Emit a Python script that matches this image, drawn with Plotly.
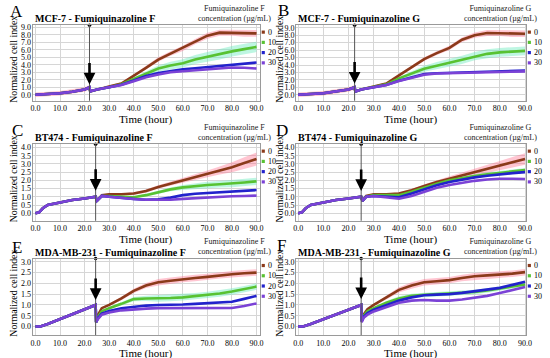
import plotly.graph_objects as go

# ------------------------------------------------------------------ data
CONC = ["0", "10", "20", "30"]
TICKS_X = [0, 10, 20, 30, 40, 50, 60, 70, 80, 90]

# Panel A  MCF-7 / Fumiquinazoline F
T_PRE_A = [0, 2, 5, 10, 15, 20, 22]
Y_PRE_A = [0.0, 0.0, 0.1, 0.2, 0.4, 0.7, 1.0]
ERR_PRE_A = [0.3, 0.3, 0.3, 0.3, 0.3, 0.3, 0.3]
T_POST_A = [22.3, 25, 30, 35, 40, 45, 50, 55, 60, 65, 70, 75, 80, 85, 90]
A_0 = [0.45, 0.7, 1.1, 1.5, 2.5, 3.6, 4.7, 5.5, 6.2, 7.1, 7.9, 8.3, 8.3, 8.2, 8.2]
A_10 = [0.45, 0.7, 1.0, 1.4, 2.1, 2.8, 3.5, 3.9, 4.2, 4.7, 5.1, 5.4, 5.8, 6.1, 6.4]
A_20 = [0.45, 0.7, 1.0, 1.35, 1.9, 2.5, 2.9, 3.2, 3.4, 3.55, 3.7, 3.9, 4.05, 4.2, 4.3]
A_30 = [0.45, 0.7, 1.0, 1.3, 1.8, 2.35, 2.7, 3.0, 3.15, 3.3, 3.4, 3.55, 3.65, 3.6, 3.5]
ERR0_A = [0.1, 0.1, 0.15, 0.2, 0.2, 0.25, 0.3, 0.3, 0.35, 0.35, 0.4, 0.4, 0.4, 0.45, 0.45]
ERR10_A = [0.1, 0.1, 0.15, 0.2, 0.25, 0.3, 0.4, 0.5, 0.55, 0.6, 0.65, 0.7, 0.7, 0.7, 0.7]

# Panel B  MCF-7 / Fumiquinazoline G
T_PRE_B = [0, 2, 5, 10, 15, 20, 22.4]
Y_PRE_B = [0.0, 0.0, 0.1, 0.2, 0.4, 0.7, 1.0]
ERR_PRE_B = [0.3, 0.3, 0.3, 0.3, 0.3, 0.3, 0.3]
T_POST_B = [22.7, 25, 30, 35, 40, 45, 50, 55, 60, 65, 70, 75, 80, 85, 90]
B_0 = [0.45, 0.7, 1.1, 1.5, 2.6, 3.7, 4.8, 5.6, 6.3, 7.4, 8.0, 8.3, 8.3, 8.2, 8.2]
B_10 = [0.45, 0.7, 1.05, 1.4, 2.2, 2.8, 3.5, 3.9, 4.3, 4.7, 5.2, 5.5, 5.7, 5.85, 5.9]
B_20 = [0.45, 0.7, 1.0, 1.3, 1.9, 2.3, 2.8, 2.9, 2.95, 3.0, 3.05, 3.1, 3.2, 3.25, 3.25]
B_30 = [0.45, 0.7, 1.0, 1.3, 1.85, 2.25, 2.7, 2.85, 2.9, 2.95, 3.0, 3.05, 3.1, 3.15, 3.15]
ERR0_B = [0.1, 0.1, 0.1, 0.15, 0.2, 0.2, 0.25, 0.25, 0.3, 0.3, 0.35, 0.4, 0.4, 0.45, 0.45]
ERR10_B = [0.1, 0.1, 0.1, 0.15, 0.2, 0.3, 0.4, 0.5, 0.5, 0.55, 0.55, 0.6, 0.6, 0.6, 0.6]

# Panel C  BT474 / Fumiquinazoline F
T_PRE_C = [0, 1.5, 3, 5, 10, 15, 20, 24.5]
Y_PRE_C = [0.0, 0.05, 0.3, 0.5, 0.65, 0.8, 0.9, 1.0]
ERR_PRE_C = [0.05, 0.05, 0.05, 0.05, 0.05, 0.05, 0.05, 0.05]
T_POST_C = [25, 27, 30, 35, 40, 45, 50, 55, 60, 65, 70, 75, 80, 85, 90]
C_0 = [0.75, 1.1, 1.15, 1.15, 1.2, 1.35, 1.6, 1.8, 2.0, 2.2, 2.4, 2.6, 2.8, 3.05, 3.3]
C_10 = [0.75, 1.05, 1.05, 1.0, 0.97, 1.1, 1.28, 1.45, 1.57, 1.65, 1.72, 1.76, 1.8, 1.87, 1.94]
C_20 = [0.75, 1.05, 1.0, 0.92, 0.87, 0.82, 0.85, 0.95, 1.1, 1.18, 1.23, 1.28, 1.32, 1.37, 1.41]
C_30 = [0.75, 1.05, 1.0, 0.92, 0.87, 0.82, 0.8, 0.82, 0.87, 0.92, 0.96, 1.0, 1.03, 1.05, 1.07]
ERR0_C = [0.05, 0.05, 0.05, 0.05, 0.08, 0.1, 0.1, 0.12, 0.15, 0.18, 0.2, 0.25, 0.3, 0.35, 0.4]
ERR10_C = [0.05, 0.05, 0.05, 0.05, 0.05, 0.08, 0.1, 0.12, 0.15, 0.18, 0.2, 0.2, 0.22, 0.22, 0.22]

# Panel D  BT474 / Fumiquinazoline G
T_PRE_D = [0, 1.5, 3, 5, 10, 15, 20, 25]
Y_PRE_D = [0.0, 0.05, 0.3, 0.5, 0.65, 0.8, 0.9, 1.0]
ERR_PRE_D = [0.05, 0.05, 0.05, 0.05, 0.05, 0.05, 0.05, 0.05]
T_POST_D = [25.5, 27, 30, 35, 40, 45, 50, 55, 60, 65, 70, 75, 80, 85, 90]
D_0 = [0.75, 1.05, 1.15, 1.15, 1.2, 1.4, 1.65, 1.9, 2.1, 2.3, 2.5, 2.7, 2.9, 3.1, 3.3]
D_10 = [0.75, 1.0, 1.1, 1.1, 1.1, 1.3, 1.55, 1.8, 2.0, 2.15, 2.27, 2.37, 2.45, 2.55, 2.63]
D_20 = [0.75, 1.0, 1.05, 1.0, 0.97, 1.2, 1.45, 1.7, 1.9, 2.05, 2.18, 2.28, 2.37, 2.44, 2.5]
D_30 = [0.75, 1.0, 1.05, 0.95, 0.88, 1.05, 1.3, 1.55, 1.72, 1.85, 1.97, 2.05, 2.1, 2.1, 2.08]
ERR0_D = [0.05, 0.05, 0.05, 0.05, 0.07, 0.08, 0.1, 0.12, 0.15, 0.18, 0.2, 0.22, 0.28, 0.32, 0.35]
ERR10_D = [0.05, 0.05, 0.05, 0.05, 0.05, 0.06, 0.07, 0.08, 0.1, 0.1, 0.12, 0.12, 0.12, 0.12, 0.12]

# Panel E  MDA-MB-231 / Fumiquinazoline F
T_PRE_E = [0, 2, 5, 10, 15, 20, 24.5]
Y_PRE_E = [0.0, 0.0, 0.12, 0.35, 0.55, 0.78, 1.0]
ERR_PRE_E = [0.05, 0.05, 0.05, 0.05, 0.05, 0.05, 0.05]
T_POST_E = [24.7, 25.5, 27, 30, 35, 40, 45, 50, 55, 60, 65, 70, 75, 80, 85, 90]
E_0 = [0.2, 0.55, 0.85, 1.0, 1.3, 1.65, 1.9, 2.05, 2.12, 2.2, 2.25, 2.3, 2.37, 2.42, 2.47, 2.5]
E_10 = [0.2, 0.45, 0.7, 0.85, 1.05, 1.27, 1.3, 1.3, 1.32, 1.35, 1.4, 1.46, 1.53, 1.62, 1.73, 1.85]
E_20 = [0.2, 0.4, 0.6, 0.72, 0.85, 0.92, 0.97, 1.0, 1.0, 1.02, 1.05, 1.08, 1.1, 1.15, 1.28, 1.42]
E_30 = [0.2, 0.35, 0.55, 0.65, 0.75, 0.8, 0.83, 0.85, 0.85, 0.85, 0.83, 0.83, 0.84, 0.86, 0.95, 1.07]
ERR0_E = [0.05, 0.05, 0.05, 0.05, 0.08, 0.1, 0.12, 0.15, 0.15, 0.15, 0.15, 0.15, 0.15, 0.15, 0.15, 0.15]
ERR10_E = [0.05, 0.05, 0.05, 0.05, 0.08, 0.1, 0.12, 0.15, 0.15, 0.15, 0.15, 0.15, 0.15, 0.15, 0.15, 0.15]

# Panel F  MDA-MB-231 / Fumiquinazoline G
T_PRE_F = [0, 2, 5, 10, 15, 20, 25]
Y_PRE_F = [0.0, 0.0, 0.12, 0.35, 0.55, 0.78, 1.0]
ERR_PRE_F = [0.05, 0.05, 0.05, 0.05, 0.05, 0.05, 0.05]
T_POST_F = [25.2, 26, 27.5, 30, 35, 40, 45, 50, 55, 60, 65, 70, 75, 80, 85, 90]
F_0 = [0.25, 0.55, 0.8, 1.0, 1.35, 1.7, 1.9, 2.05, 2.1, 2.15, 2.25, 2.33, 2.37, 2.4, 2.45, 2.52]
F_10 = [0.25, 0.5, 0.7, 0.85, 1.1, 1.3, 1.42, 1.47, 1.5, 1.52, 1.56, 1.6, 1.67, 1.76, 1.85, 1.95]
F_20 = [0.25, 0.45, 0.62, 0.78, 1.0, 1.2, 1.35, 1.45, 1.48, 1.5, 1.56, 1.63, 1.7, 1.79, 1.93, 2.08]
F_30 = [0.2, 0.4, 0.55, 0.7, 0.9, 1.1, 1.2, 1.23, 1.2, 1.2, 1.25, 1.32, 1.42, 1.55, 1.68, 1.83]
ERR0_F = [0.05, 0.05, 0.05, 0.05, 0.1, 0.12, 0.15, 0.15, 0.15, 0.15, 0.15, 0.15, 0.15, 0.15, 0.15, 0.15]
ERR10_F = [0.05, 0.05, 0.05, 0.05, 0.08, 0.1, 0.1, 0.1, 0.1, 0.1, 0.1, 0.1, 0.1, 0.1, 0.1, 0.1]

# drug-addition time (vertical line / arrow) per panel
DRUG_T = {"A": 22, "B": 22.4, "C": 24.5, "D": 25, "E": 24.5, "F": 25}

# ------------------------------------------------------------------ style
W, H = 550, 358
SERIF = "Liberation Serif"
COLORS = ["#8B3A1A", "#58C232", "#2222CC", "#7B42D6"]
BAND0 = "rgba(255,110,140,0.40)"
BAND10 = "rgba(110,235,190,0.45)"


def fx(p):
    return p / W


def fy(p):
    return 1 - p / H


LEFT_DOM = [30, 261.5]
RIGHT_DOM = [298, 532]
ROWS = [(23.3, 99.3), (143, 220), (258, 335)]

panels = [
    dict(key="A", title="MCF-7 - Fumiquinazoline F", drug="F", col=0, row=0,
         tpre=T_PRE_A, ypre=Y_PRE_A, epre=ERR_PRE_A, tpost=T_POST_A,
         ys=[A_0, A_10, A_20, A_30], e0=ERR0_A, e10=ERR10_A,
         xr=[-1.2, 91.5], yr=[-0.8, 9.3], dtick=1.0, tip=1.37),
    dict(key="B", title="MCF-7 - Fumiquinazoline G", drug="G", col=1, row=0,
         tpre=T_PRE_B, ypre=Y_PRE_B, epre=ERR_PRE_B, tpost=T_POST_B,
         ys=[B_0, B_10, B_20, B_30], e0=ERR0_B, e10=ERR10_B,
         xr=[-0.8, 90.5], yr=[-0.8, 9.35], dtick=1.0, tip=1.5),
    dict(key="C", title="BT474 - Fumiquinazoline F", drug="F", col=0, row=1,
         tpre=T_PRE_C, ypre=Y_PRE_C, epre=ERR_PRE_C, tpost=T_POST_C,
         ys=[C_0, C_10, C_20, C_30], e0=ERR0_C, e10=ERR10_C,
         xr=[-1.2, 91.5], yr=[-0.46, 4.2], dtick=0.5, tip=1.37),
    dict(key="D", title="BT474 - Fumiquinazoline G", drug="G", col=1, row=1,
         tpre=T_PRE_D, ypre=Y_PRE_D, epre=ERR_PRE_D, tpost=T_POST_D,
         ys=[D_0, D_10, D_20, D_30], e0=ERR0_D, e10=ERR10_D,
         xr=[-0.8, 90.5], yr=[-0.46, 4.2], dtick=0.5, tip=1.35),
    dict(key="E", title="MDA-MB-231 - Fumiquinazoline F", drug="F", col=0, row=2,
         tpre=T_PRE_E, ypre=Y_PRE_E, epre=ERR_PRE_E, tpost=T_POST_E,
         ys=[E_0, E_10, E_20, E_30], e0=ERR0_E, e10=ERR10_E,
         xr=[-1.2, 91.5], yr=[-0.4, 3.15], dtick=0.5, tip=1.23),
    dict(key="F", title="MDA-MB-231 - Fumiquinazoline G", drug="G", col=1, row=2,
         tpre=T_PRE_F, ypre=Y_PRE_F, epre=ERR_PRE_F, tpost=T_POST_F,
         ys=[F_0, F_10, F_20, F_30], e0=ERR0_F, e10=ERR10_F,
         xr=[-0.8, 90.5], yr=[-0.4, 3.15], dtick=0.5, tip=1.27),
]

fig = go.Figure()
layout = dict(
    width=W, height=H, margin=dict(l=0, r=0, t=0, b=0),
    paper_bgcolor="white", plot_bgcolor="white", showlegend=False,
    font=dict(family=SERIF, color="black"),
)
annotations = []
shapes = []


def band(t, y, e, color, xa, ya):
    up = [a + b for a, b in zip(y, e)]
    lo = [a - b for a, b in zip(y, e)]
    return go.Scatter(x=list(t) + list(t)[::-1], y=up + lo[::-1], fill="toself",
                      fillcolor=color, line=dict(width=0), mode="lines",
                      hoverinfo="skip", xaxis=xa, yaxis=ya)


LETTER_POS = {"A": (14, 10), "B": (285, 9), "C": (15, 129),
              "D": (284, 129), "E": (14, 247), "F": (283, 245)}

for i, p in enumerate(panels):
    n = i + 1
    xa = "x" if n == 1 else f"x{n}"
    ya = "y" if n == 1 else f"y{n}"
    xk = "xaxis" if n == 1 else f"xaxis{n}"
    yk = "yaxis" if n == 1 else f"yaxis{n}"
    dom = LEFT_DOM if p["col"] == 0 else RIGHT_DOM
    top, bot = ROWS[p["row"]]

    # error bands
    fig.add_trace(band(p["tpre"], p["ypre"], p["epre"], BAND0, xa, ya))
    fig.add_trace(band(p["tpost"], p["ys"][0], p["e0"], BAND0, xa, ya))
    fig.add_trace(band(p["tpost"], p["ys"][1], p["e10"], BAND10, xa, ya))
    # curves
    for k in range(4):
        fig.add_trace(go.Scatter(
            x=list(p["tpre"]) + list(p["tpost"]),
            y=list(p["ypre"]) + list(p["ys"][k]),
            mode="lines", line=dict(color=COLORS[k], width=2.6),
            name=CONC[k], xaxis=xa, yaxis=ya))

    axis_common = dict(
        showgrid=True, gridcolor="#d6d6d6", gridwidth=1, showline=True,
        linecolor="#9a9a9a", linewidth=1, mirror=True, ticks="", zeroline=False,
        tickformat=".1f", tickfont=dict(family=SERIF, size=8, color="black"))
    layout[xk] = dict(domain=[fx(dom[0]), fx(dom[1])], range=p["xr"], anchor=ya,
                      tickvals=TICKS_X, **axis_common)
    ny = int(round(p["yr"][1] / p["dtick"]))
    yticks = [round(j * p["dtick"], 2) for j in range(ny + 1) if j * p["dtick"] <= p["yr"][1]]
    layout[yk] = dict(domain=[fy(bot), fy(top)], range=p["yr"], anchor=xa,
                      tickvals=yticks, ticklabelstandoff=-1, **axis_common)

    # drug addition line + dot on the frame + arrow
    dt = DRUG_T[p["key"]]
    shapes.append(dict(type="line", xref=xa, yref=f"{ya} domain", x0=dt, x1=dt,
                       y0=0, y1=1, line=dict(color="#555", width=1)))
    fig.add_trace(go.Scatter(x=[dt], y=[p["yr"][1]], mode="markers",
                             marker=dict(color="black", size=3.5), cliponaxis=False,
                             hoverinfo="skip", xaxis=xa, yaxis=ya))
    annotations.append(dict(x=dt, y=p["tip"], xref=xa, yref=ya, text="",
                            showarrow=True, ax=0, ay=-23, arrowhead=2,
                            arrowsize=0.9, arrowwidth=2.6, arrowcolor="black"))

    # panel letter
    lx, ly = LETTER_POS[p["key"]]
    annotations.append(dict(x=fx(lx), y=fy(ly), xref="paper", yref="paper",
                            text=p["key"], showarrow=False,
                            xanchor="center", yanchor="middle",
                            font=dict(family=SERIF, size=17, color="black")))
    # panel title
    annotations.append(dict(x=fx(dom[0]), y=fy(top - 6.5), xref="paper", yref="paper",
                            text=f"<b>{p['title']}</b>", showarrow=False,
                            xanchor="left", yanchor="middle",
                            font=dict(family=SERIF, size=10, color="black")))
    # axis titles
    annotations.append(dict(x=fx((dom[0] + dom[1]) / 2 - 1), y=fy(bot + 18.5),
                            xref="paper", yref="paper", text="Time (hour)",
                            showarrow=False, xanchor="center", yanchor="middle",
                            font=dict(family=SERIF, size=11, color="black")))
    ytx = dom[0] - (19 if p["col"] == 0 else 16.5)
    annotations.append(dict(x=fx(ytx), y=fy((top + bot) / 2 - 4),
                            xref="paper", yref="paper", text="Normalized cell index",
                            showarrow=False, textangle=-90, xanchor="center",
                            yanchor="middle",
                            font=dict(family=SERIF, size=9.8, color="black")))
    # legend title
    lcx = dom[1] - 26
    annotations.append(dict(x=fx(lcx), y=fy(top - 12), xref="paper", yref="paper",
                            text=f"Fumiquinazoline {p['drug']}<br>concentration (\u00b5g/mL)",
                            showarrow=False, xanchor="center", yanchor="middle",
                            align="center",
                            font=dict(family=SERIF, size=8, color="#222")))
    # legend items
    for k in range(4):
        iy = top + 7 + k * 10.3
        sx = dom[1] + 1.5
        shapes.append(dict(type="rect", xref="paper", yref="paper",
                           x0=fx(sx), x1=fx(sx + 3.2), y0=fy(iy + 1.6), y1=fy(iy - 1.6),
                           fillcolor=COLORS[k], line=dict(width=0)))
        annotations.append(dict(x=fx(sx + 4), y=fy(iy), xref="paper", yref="paper",
                                text=CONC[k], showarrow=False, xanchor="left",
                                yanchor="middle",
                                font=dict(family=SERIF, size=8, color="black")))

layout["annotations"] = annotations
layout["shapes"] = shapes
fig.update_layout(**layout)
fig.write_html("out.html", config={"displayModeBar": False},
               post_script="document.body.style.margin='0';document.body.style.overflow='hidden';")
